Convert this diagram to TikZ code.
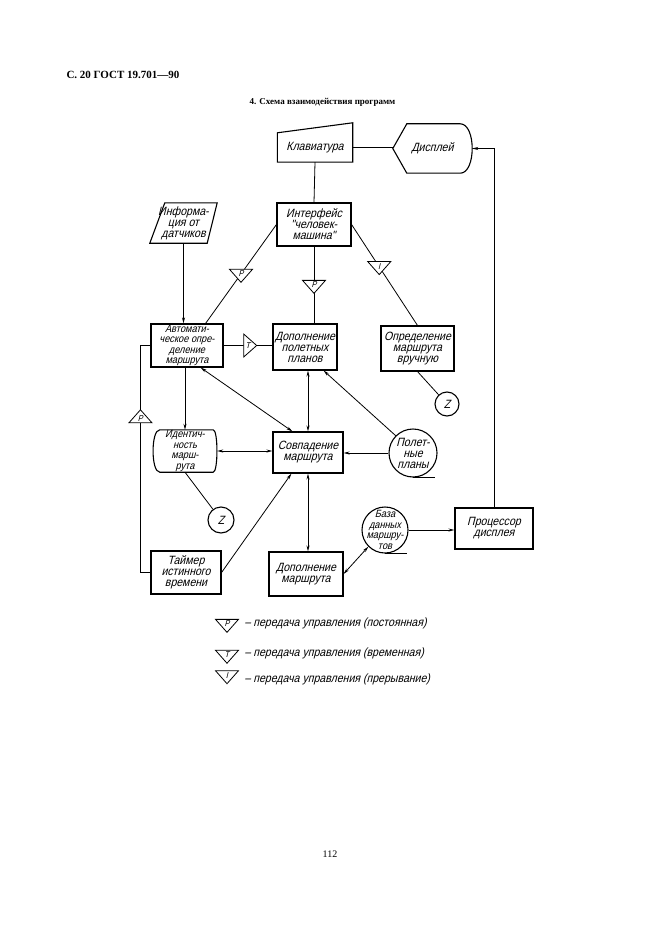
\documentclass[tikz,border=0pt]{standalone}
\usepackage{fontspec}
\setmainfont{Liberation Serif}
\newfontfamily\gostfont[FakeStretch=0.88,FakeSlant=0.25]{Liberation Sans}
\usetikzlibrary{shapes.geometric,arrows.meta}

\tikzset{
  gost/.style={font=\gostfont\fontsize{12}{11}\selectfont},
  tight/.style={font=\gostfont\fontsize{10.5}{10.5}\selectfont},
  shp/.style={gost, align=center, inner sep=0pt},
  blok/.style={shp, draw, line width=1.1pt},
  outline/.style={line width=1.1pt},
  store/.style={shp, draw, circle, line width=1.1pt},
  zcirc/.style={store, minimum size=24pt},
  ctrl/.style={draw, line width=0.8pt, fill=white, isosceles triangle,
    isosceles triangle stretches, minimum width=23pt, minimum height=13pt,
    inner sep=0pt, font=\gostfont\fontsize{8.5}{8.5}\selectfont},
  link/.style={line width=0.8pt},
  arr/.style={link, -{Stealth[length=6pt,width=3pt]}},
  darr/.style={link, {Stealth[length=6pt,width=3pt]}-{Stealth[length=6pt,width=3pt]}}
}

\begin{document}
\begin{tikzpicture}[x=1pt,y=-1pt]
\useasboundingbox (0,0) rectangle (661,936);

% page head
\node[font=\rmfamily\bfseries\fontsize{11}{13}\selectfont, anchor=west] (head) at (63,75) {С. 20 ГОСТ 19.701—90};
\node[font=\rmfamily\bfseries\fontsize{9}{11}\selectfont] (title) at (322.5,102) {4. Схема взаимодействия программ};

% blocks
\node[shp, minimum width=75pt, minimum height=29pt] (kbd) at (315,147.5) {Клавиатура};
\draw[outline] (kbd.south west) -- (kbd.north west) -- ([yshift=10pt]kbd.north east) -- (kbd.south east) -- cycle;
\node[shp, minimum width=79pt, minimum height=49pt] (disp) at (432.5,148.5) {Дисплей};
\draw[outline] (disp.west) -- ([xshift=14pt]disp.north west) -- ([xshift=-12pt]disp.north east)
  .. controls ([xshift=4pt]disp.north east) and ([xshift=4pt]disp.south east) .. ([xshift=-12pt]disp.south east)
  -- ([xshift=14pt]disp.south west) -- cycle;
\node[blok, minimum width=74pt, minimum height=43pt] (iface) at (314,224.5) {Интерфейс\\"человек-\\машина"};
\node[shp, minimum width=67pt, minimum height=40pt] (sens) at (183.5,223) {Информа-\\ция от\\датчиков};
\draw[outline] ([xshift=15pt]sens.north west) -- (sens.north east) -- ([xshift=-10pt]sens.south east) -- (sens.south west) -- cycle;
\node[blok, tight, minimum width=72pt, minimum height=43pt] (auto) at (187,345.5) {Автомати-\\ческое опре-\\деление\\маршрута};
\node[blok, minimum width=64pt, minimum height=46pt] (dplan) at (305,347) {Дополнение\\полетных\\планов};
\node[blok, minimum width=73pt, minimum height=45pt] (manual) at (417.5,348.5) {Определение\\маршрута\\вручную};
\node[zcirc] (zA) at (447,404) {Z};
\node[shp, tight, minimum width=64pt, minimum height=42pt] (ident) at (185,451) {Идентич-\\ность\\марш-\\рута};
\draw[outline] ([xshift=7pt]ident.north west) -- ([xshift=-4pt]ident.north east)
  .. controls ([xshift=1pt]ident.north east) and ([xshift=1pt]ident.south east) .. ([xshift=-4pt]ident.south east)
  -- ([xshift=7pt]ident.south west)
  .. controls ([xshift=-2pt]ident.south west) and ([xshift=-2pt]ident.north west) .. cycle;
\node[blok, minimum width=70pt, minimum height=41pt] (sovp) at (308,452.5) {Совпадение\\маршрута};
\node[zcirc, minimum size=26pt] (zB) at (221,520) {Z};
\node[store, minimum size=48pt] (plans) at (413,453) {Полет-\\ные\\планы};
\node[store, minimum size=46pt] (baza) at (385,530) {};
\node[shp, tight] (bazaText) at (baza) {База\\данных\\маршру-\\тов};
\node[blok, minimum width=70pt, minimum height=43pt] (timer) at (186,572.5) {Таймер\\истинного\\времени};
\node[blok, minimum width=74pt, minimum height=44pt] (dmarsh) at (306,574) {Дополнение\\маршрута};
\node[blok, minimum width=78pt, minimum height=41pt] (proc) at (494,528.5) {Процессор\\дисплея};
\draw[outline] (plans.south) -- ++(22,0);
\draw[outline] (baza.south) -- ++(22,0);

% connectors
\draw[link] (kbd.east) -- (kbd.east -| disp.west);
\draw[link] (kbd.south) -- (iface.north);
\draw[arr] (proc.north) |- (disp.east);
\draw[arr] (sens.south) -- (sens.south |- auto.north);
\draw[link] (iface.west) -- node[ctrl, shape border rotate=-127] (tP1) {P} ([xshift=-18pt]auto.north east);
\draw[link] (iface.south) -- node[ctrl, shape border rotate=-90] (tP2) {P} (iface.south |- dplan.north);
\draw[link] (iface.east) -- node[ctrl, pos=0.42, shape border rotate=-55] (tI) {I} (manual.north);
\draw[link] (auto.east) -- node[ctrl, shape border rotate=0] (tT) {T} (auto.east -| dplan.west);
\draw[link] (timer.west) -- ++(-10,0) |- node[ctrl, pos=0.34, shape border rotate=90] (tP3) {P} (auto.west);
\draw[link] (manual.south) -- (zA);
\draw[arr] (ident.north |- auto.south) -- (ident.north);
\draw[darr] (ident.east) -- (ident.east -| sovp.west);
\draw[link] (ident.south) -- (zB);
\draw[darr] ([xshift=-23pt]auto.south east) -- ([xshift=20pt]sovp.north west);
\draw[darr] (sovp.north |- dplan.south) -- (sovp.north);
\draw[arr] (plans.north west) -- ([xshift=-14pt]dplan.south east);
\draw[arr] (plans.west) -- (plans.west -| sovp.east);
\draw[arr] (timer.east) -- ([xshift=19pt]sovp.south west);
\draw[darr] (sovp.south) -- (sovp.south |- dmarsh.north);
\draw[darr] (dmarsh.east) -- (baza.south west);
\draw[arr] (baza.east) -- (baza.east -| proc.west);

% legend
\node[ctrl, shape border rotate=-90] (keyP) at (227,624) {P};
\node[gost, anchor=west] (keyPtext) at (241,623) {– передача управления (постоянная)};
\node[ctrl, shape border rotate=-90] (keyT) at (227,655) {T};
\node[gost, anchor=west] (keyTtext) at (241,653) {– передача управления (временная)};
\node[ctrl, shape border rotate=-90] (keyI) at (227,676) {I};
\node[gost, anchor=west] (keyItext) at (241,679) {– передача управления (прерывание)};

\node[font=\rmfamily\fontsize{10}{12}\selectfont] (page) at (330,854) {112};
\end{tikzpicture}
\end{document}
